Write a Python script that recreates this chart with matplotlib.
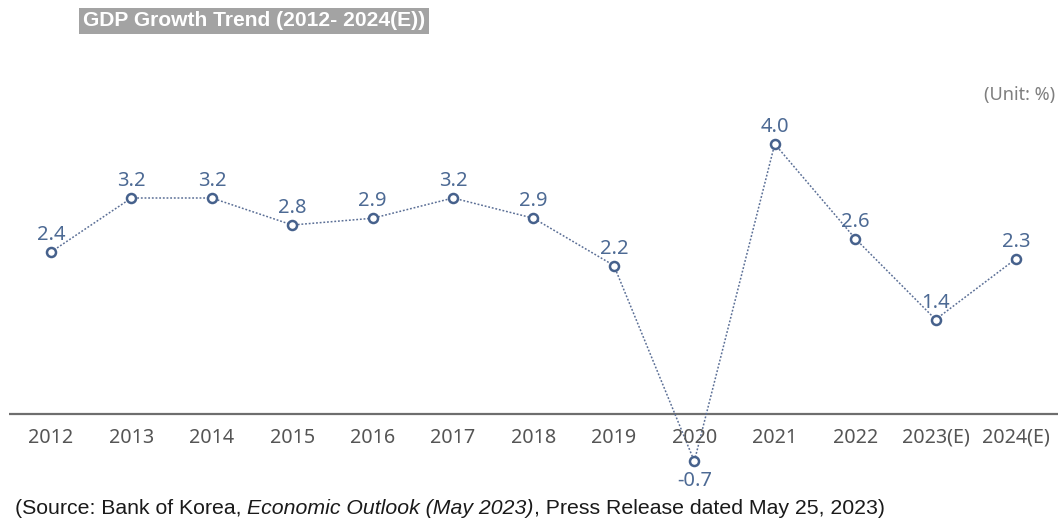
import matplotlib
matplotlib.use("Agg")
import matplotlib.pyplot as plt
from matplotlib.patches import Rectangle

years = ["2012", "2013", "2014", "2015", "2016", "2017", "2018",
         "2019", "2020", "2021", "2022", "2023(E)", "2024(E)"]
growth = [2.4, 3.2, 3.2, 2.8, 2.9, 3.2, 2.9, 2.2, -0.7, 4.0, 2.6, 1.4, 2.3]

W, H = 1062, 525
fig = plt.figure(figsize=(W / 100, H / 100), dpi=100)
fig.patch.set_facecolor("white")

ax = fig.add_axes([0, 0, 1, 1])
ax.set_xlim(-0.634, 12.572)
ax.set_ylim(-1.644, 6.133)
ax.axis("off")

line_col = "#5b6f96"
mark_col = "#46618c"
lab_col = "#4d6a94"
tick_col = "#555555"

x = list(range(len(years)))
ax.plot(x, growth, color=line_col, lw=1.1, ls=(0, (1.2, 1.2)), zorder=2)
ax.plot(x, growth, ls="none", marker="o", ms=6.5, mfc="white",
        mec=mark_col, mew=1.8, zorder=3)

# zero baseline
ax.plot([-0.52, 12.52], [0, 0], color="#6e6e6e", lw=1.6, zorder=1,
        solid_capstyle="butt")

for xi, v in zip(x, growth):
    if v >= 0:
        ax.annotate(f"{v:.1f}", (xi, v), xytext=(0, 5), textcoords="offset points",
                    ha="center", va="bottom", fontsize=14.5, color=lab_col,
                    family="Noto Sans")
    else:
        ax.annotate(f"{v:.1f}", (xi, v), xytext=(0, -7), textcoords="offset points",
                    ha="center", va="top", fontsize=14.5, color=lab_col,
                    family="Noto Sans")

for xi, lab in zip(x, years):
    ax.text(xi, -0.355, lab, ha="center", va="center", fontsize=14.2,
            color=tick_col, family="Noto Sans")

# white strip under the chart for the source note
ax.add_patch(Rectangle((0, 0), 1, (H - 492) / H, transform=fig.transFigure,
                       facecolor="white", edgecolor="none", zorder=5,
                       clip_on=False))

# title
ax.text(83 / W, 1 - 21 / H, "GDP Growth Trend (2012- 2024(E))", ha="left",
        va="center", fontsize=15.1, fontweight="bold", color="white",
        family="Liberation Sans", transform=fig.transFigure,
        bbox=dict(boxstyle="square,pad=0.17", facecolor="#a3a3a3",
                  edgecolor="none"), zorder=6)

ax.text(1055 / W, 1 - 95 / H, "(Unit: %)", ha="right", va="center",
        fontsize=13, color="#7f7f7f", family="Noto Sans",
        transform=fig.transFigure)

# source note with italic publication title
src_kw = dict(fontsize=15.3, color="#1a1a1a", family="Liberation Sans",
              zorder=6, annotation_clip=False, va="center", ha="left")
t1 = ax.annotate("(Source: Bank of Korea, ", xy=(15 / W, 1 - 508 / H),
                 xycoords="figure fraction", **src_kw)
t2 = ax.annotate("Economic Outlook (May 2023)", xy=(1, 0.5), xycoords=t1,
                 style="italic", **src_kw)
t3 = ax.annotate(", Press Release dated May 25, 2023)", xy=(1, 0.5), xycoords=t2,
                 **src_kw)

fig.savefig("out.png", dpi=100, facecolor="white")
